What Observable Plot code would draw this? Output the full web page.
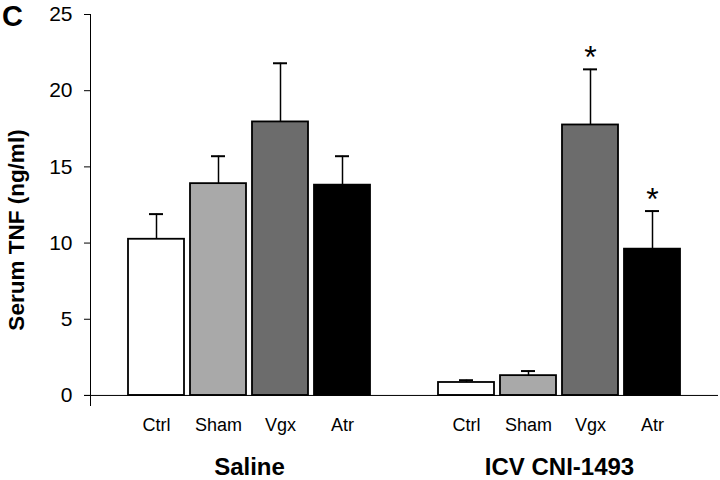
<!DOCTYPE html>
<html>
<head>
<meta charset="utf-8">
<script src="https://cdn.jsdelivr.net/npm/d3@7"></script>
<script src="https://cdn.jsdelivr.net/npm/@observablehq/plot@0.6"></script>
<style>
  html, body { margin: 0; padding: 0; background: #fff; }
  #wrap { position: relative; width: 720px; height: 480px; }
  #panel { position: absolute; left: 2px; top: 0px; line-height: 1; font: bold 29px "Liberation Sans", Arial, sans-serif; }
</style>
</head>
<body>
<div id="wrap"><div id="panel">C</div></div>
<script>
// Data
const groups = ["Saline", "ICV CNI-1493"];
const conditions = ["Ctrl", "Sham", "Vgx", "Atr"];
const salineMean = [10.25, 13.9, 17.95, 13.8];
const salineSEM  = [1.65, 1.8, 3.85, 1.9];
const icvMean    = [0.85, 1.3, 17.75, 9.6];
const icvSEM     = [0.15, 0.3, 3.65, 2.5];
const icvSignificant = [false, false, true, true];
const fills = ["#ffffff", "#a9a9a9", "#6c6c6c", "#000000"];
const yTicks = [0, 5, 10, 15, 20, 25];

const rows = [];
conditions.forEach((c, i) => rows.push({group: groups[0], cond: c, key: groups[0] + "|" + c, mean: salineMean[i], top: salineMean[i] + salineSEM[i], sig: false}));
conditions.forEach((c, i) => rows.push({group: groups[1], cond: c, key: groups[1] + "|" + c, mean: icvMean[i], top: icvMean[i] + icvSEM[i], sig: icvSignificant[i]}));
const domain = [...conditions.map(c => groups[0] + "|" + c), "gap", ...conditions.map(c => groups[1] + "|" + c)];
const groupLabels = groups.map(g => ({label: g, key: g + "|" + conditions[1]}));
const font = '"Liberation Sans", Arial, Helvetica, sans-serif';

const chart = Plot.plot({
  width: 720,
  height: 480,
  marginLeft: 90,
  marginRight: 2,
  marginTop: 14,
  marginBottom: 75,
  style: {fontFamily: font, background: "#fff", color: "#000"},
  x: {domain, paddingInner: 0.09, paddingOuter: 0.56, axis: null},
  y: {domain: [-0.66, 25], axis: null},
  color: {domain: conditions, range: fills},
  marks: [
    Plot.frame({anchor: "left", stroke: "#000", strokeWidth: 1}),
    Plot.ruleY([0], {stroke: "#000", strokeWidth: 1, insetLeft: -6}),
    Plot.axisY({ticks: yTicks, tickSize: 6, tickPadding: 12, fontSize: 21, label: null, tickFormat: d => String(d)}),
    Plot.axisX({tickSize: 0, tickPadding: 13, fontSize: 18, label: null, tickFormat: d => d === "gap" ? "" : d.split("|")[1]}),
    Plot.ruleX(rows, {x: "key", y1: "mean", y2: "top", stroke: "#000", strokeWidth: 1.5}),
    Plot.tickY(rows, {x: "key", y: "top", stroke: "#000", strokeWidth: 2, insetLeft: 21, insetRight: 21}),
    Plot.barY(rows, {x: "key", y: "mean", fill: "cond", stroke: "#000", strokeWidth: 1.8}),
    Plot.text(rows.filter(d => d.sig), {x: "key", y: "top", text: () => "*", fontSize: 32, lineAnchor: "top", dy: -24}),
    Plot.text(groupLabels, {x: "key", text: "label", frameAnchor: "bottom", dx: 31, dy: 62, fontSize: 24, fontWeight: "bold", lineAnchor: "middle"}),
    Plot.text(["Serum TNF (ng/ml)"], {frameAnchor: "left", textAnchor: "middle", rotate: -90, dx: -74, dy: 20, fontSize: 22.5, fontWeight: "bold", lineAnchor: "middle"})
  ]
});
document.getElementById("wrap").appendChild(chart);
chart.style.position = "absolute";
chart.style.left = "0";
chart.style.top = "0";
document.getElementById("panel").style.zIndex = 2;
</script>
</body>
</html>
